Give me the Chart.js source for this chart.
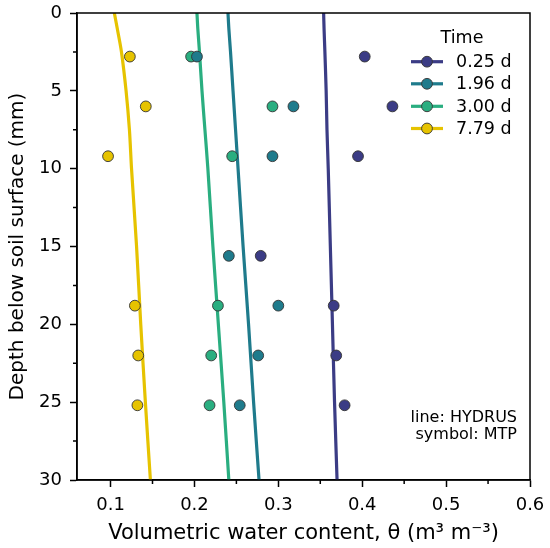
<!DOCTYPE html>
<html>
<head>
<meta charset="utf-8">
<script src="https://cdn.jsdelivr.net/npm/chart.js@4.4.0/dist/chart.umd.min.js"></script>
<style>
html, body { margin: 0; padding: 0; background: #fff; }
#wrap { width: 550px; height: 548px; }
</style>
</head>
<body>
<div id="wrap"><canvas id="profileChart"></canvas></div>
<script>
// measured depths (mm) and MTP water contents
const mtpDepths = [2.8, 6.0, 9.2, 15.6, 18.8, 22.0, 25.2];
const mtp025 = [0.403, 0.436, 0.395, 0.279, 0.366, 0.369, 0.379];
const mtp196 = [0.203, 0.318, 0.293, 0.241, 0.300, 0.276, 0.254];
const mtp300 = [0.196, 0.293, 0.245, null, 0.228, 0.220, 0.218];
const mtp779 = [0.123, 0.142, 0.097, null, 0.129, 0.133, 0.132];

// HYDRUS simulated profiles
const hydDepths = [0, 1, 2.5, 5, 7.5, 10, 15, 20, 25, 30];
const hyd025 = [0.354, 0.3545, 0.3555, 0.357, 0.358, 0.3595, 0.362, 0.3645, 0.367, 0.370];
const hyd196 = [0.240, 0.241, 0.243, 0.246, 0.249, 0.252, 0.258, 0.2645, 0.2705, 0.277];
const hyd300 = [0.203, 0.204, 0.206, 0.209, 0.2125, 0.216, 0.222, 0.2285, 0.235, 0.241];
const hyd779 = [0.1045, 0.108, 0.113, 0.1185, 0.1225, 0.125, 0.131, 0.136, 0.1415, 0.1475];

const timeLabels = ['0.25 d', '1.96 d', '3.00 d', '7.79 d'];
const xTicks = [0.1, 0.2, 0.3, 0.4, 0.5, 0.6];
const xMinor = [0.15, 0.25, 0.35, 0.45, 0.55];
const yTicks = [0, 5, 10, 15, 20, 25, 30];
const yMinor = [2.5, 7.5, 12.5, 17.5, 22.5, 27.5];

const colors = ['#3b3c85', '#1f7b8c', '#2aae80', '#e6c300'];
const mtpSeries = [mtp025, mtp196, mtp300, mtp779];
const hydSeries = [hyd025, hyd196, hyd300, hyd779];

Chart.defaults.font.family = 'DejaVu Sans';
Chart.defaults.color = '#000';

const toPoints = (xs, ys) => xs.map((v, i) => ({ x: v, y: ys[i] })).filter(p => p.x !== null);

const datasets = [];
mtpSeries.forEach((s, i) => {
    datasets.push({
        label: timeLabels[i] + ' MTP',
        data: toPoints(s, mtpDepths),
        showLine: false,
        pointRadius: 5.4,
        pointBackgroundColor: colors[i],
        pointBorderColor: '#333',
        pointBorderWidth: 0.9,
        order: 0
    });
});
hydSeries.forEach((s, i) => {
    datasets.push({
        label: timeLabels[i],
        data: toPoints(s, hydDepths),
        showLine: true,
        borderColor: colors[i],
        borderWidth: 3.2,
        pointRadius: 0,
        tension: 0.3,
        order: 1
    });
});

const framePlugin = {
    id: 'frame',
    afterDraw(chart) {
        const { ctx, chartArea: a, scales } = chart;
        ctx.save();
        ctx.strokeStyle = '#000';
        ctx.lineWidth = 1.5;
        ctx.strokeRect(a.left, a.top, a.right - a.left, a.bottom - a.top);

        // minor ticks
        ctx.beginPath();
        xMinor.forEach(v => {
            const px = scales.x.getPixelForValue(v);
            ctx.moveTo(px, a.bottom);
            ctx.lineTo(px, a.bottom + 4);
        });
        yMinor.forEach(v => {
            const py = scales.y.getPixelForValue(v);
            ctx.moveTo(a.left, py);
            ctx.lineTo(a.left - 4, py);
        });
        ctx.stroke();

        // legend
        ctx.fillStyle = '#000';
        ctx.font = '17.5px "DejaVu Sans"';
        ctx.textBaseline = 'middle';
        ctx.textAlign = 'center';
        ctx.fillText('Time', 462, 38);
        ctx.textAlign = 'left';
        const rows = [61.7, 83.8, 106.3, 128.5];
        timeLabels.forEach((lab, i) => {
            const y = rows[i];
            ctx.strokeStyle = colors[i];
            ctx.lineWidth = 3.2;
            ctx.beginPath();
            ctx.moveTo(411, y);
            ctx.lineTo(443, y);
            ctx.stroke();
            ctx.beginPath();
            ctx.arc(427, y, 5.4, 0, Math.PI * 2);
            ctx.fillStyle = colors[i];
            ctx.fill();
            ctx.strokeStyle = '#333';
            ctx.lineWidth = 0.9;
            ctx.stroke();
            ctx.fillStyle = '#000';
            ctx.fillText(lab, 456, y + 1);
        });

        // note
        ctx.font = '16px "DejaVu Sans"';
        ctx.textAlign = 'right';
        ctx.fillText('line: HYDRUS', 517, 418);
        ctx.fillText('symbol: MTP', 517, 435);
        ctx.restore();
    }
};

new Chart('profileChart', {
    type: 'scatter',
    data: { datasets },
    options: {
        responsive: true,
        maintainAspectRatio: false,
        animation: false,
        layout: { autoPadding: false, padding: { top: 13, right: 20, left: 0, bottom: 0 } },
        plugins: {
            legend: { display: false },
            tooltip: { enabled: false }
        },
        scales: {
            x: {
                type: 'linear',
                min: 0.06,
                max: 0.6,
                afterBuildTicks: s => { s.ticks = xTicks.map(v => ({ value: v })); },
                afterFit: s => { s.height = 68; s.paddingLeft = 0; s.paddingRight = 0; },
                ticks: {
                    callback: v => v.toFixed(1),
                    font: { size: 18 },
                    color: '#000',
                    padding: 8,
                    maxRotation: 0,
                    autoSkip: false
                },
                grid: { drawOnChartArea: false, tickLength: 7, tickColor: '#000', tickWidth: 1.5 },
                border: { color: '#000', width: 1.5 },
                title: {
                    display: true,
                    text: 'Volumetric water content, \u03b8 (m\u00b3 m\u207b\u00b3)',
                    font: { size: 21 },
                    color: '#000',
                    padding: { top: 0, bottom: 2 }
                }
            },
            y: {
                type: 'linear',
                reverse: true,
                min: 0,
                max: 30,
                afterBuildTicks: s => { s.ticks = yTicks.map(v => ({ value: v })); },
                afterFit: s => { s.width = 77; s.paddingTop = 0; s.paddingBottom = 0; },
                ticks: {
                    font: { size: 18 },
                    color: '#000',
                    padding: 8,
                    autoSkip: false
                },
                grid: { drawOnChartArea: false, tickLength: 7, tickColor: '#000', tickWidth: 1.5 },
                border: { color: '#000', width: 1.5 },
                title: {
                    display: true,
                    text: 'Depth below soil surface (mm)',
                    font: { size: 20 },
                    color: '#000',
                    padding: { top: 6, bottom: 4 }
                }
            }
        }
    },
    plugins: [framePlugin]
});
</script>
</body>
</html>
